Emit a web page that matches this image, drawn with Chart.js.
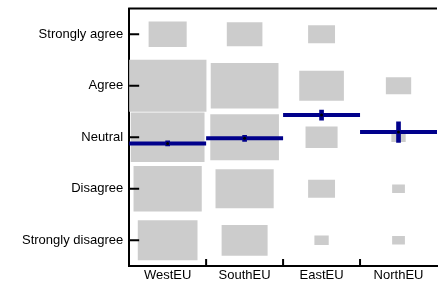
<!DOCTYPE html>
<html>
<head>
<meta charset="utf-8">
<script src="https://cdn.jsdelivr.net/npm/chart.js@4.4.0/dist/chart.umd.min.js"></script>
<style>
  html, body { margin: 0; padding: 0; background: #fff; overflow: hidden; }
</style>
</head>
<body>
<canvas id="chart" width="441" height="284"></canvas>
<script>
var regions = ["WestEU", "SouthEU", "EastEU", "NorthEU"];
var levels = ["Strongly disagree", "Disagree", "Neutral", "Agree", "Strongly agree"];

// answer frequency per level, Strongly disagree .. Strongly agree
var westEU = [59, 77, 90, 98, 24];
var southEU = [35, 56, 78, 76, 21];
var eastEU = [3.4, 12, 17, 33, 12];
var northEU = [2.7, 2.7, 3.4, 10.6, 0];

// mean answer (1..5) and its error
var means = [2.88, 2.98, 3.43, 3.10];
var errors = [0.05, 0.06, 0.10, 0.20];

var blue = "#00008b";
var gray = "#cccccc";
var font = { family: "'Liberation Sans', Arial, sans-serif", size: 13 };

var freqs = [westEU, southEU, eastEU, northEU];
var maxFreq = 0;
for (var r = 0; r < freqs.length; r++) {
	for (var l = 0; l < levels.length; l++) {
		if (freqs[r][l] > maxFreq) maxFreq = freqs[r][l];
	}
}

var datasets = [];

// one box per cell, side scaled with sqrt of frequency
for (var r = 0; r < regions.length; r++) {
	for (var l = 0; l < levels.length; l++) {
		var f = freqs[r][l];
		if (!f) continue;
		var s = Math.sqrt(f / maxFreq);
		datasets.push({
			type: "bar",
			data: [{ x: regions[r], y: [l + 1 - s / 2, l + 1 + s / 2] }],
			backgroundColor: gray,
			borderWidth: 0,
			grouped: false,
			categoryPercentage: 1,
			barPercentage: s,
			order: 5
		});
	}
}

var meanPts = [];
var errPts = [];
for (var k = 0; k < regions.length; k++) {
	meanPts.push({ x: regions[k], y: means[k] });
	errPts.push({ x: regions[k], y: [means[k] - errors[k], means[k] + errors[k]] });
}

// mean line across the whole category
datasets.push({
	type: "line",
	data: meanPts,
	showLine: false,
	pointStyle: "line",
	pointRadius: function(ctx) {
		var xs = ctx.chart.scales.x;
		return xs ? xs.width / regions.length / 2 : 39;
	},
	pointBorderWidth: 4,
	pointBorderColor: blue,
	order: 3
});

// error bars
datasets.push({
	type: "bar",
	data: errPts,
	backgroundColor: blue,
	borderWidth: 0,
	grouped: false,
	barThickness: 4,
	order: 2
});

// centre dot
datasets.push({
	type: "line",
	data: meanPts,
	showLine: false,
	pointStyle: "circle",
	pointRadius: 1.5,
	pointBorderWidth: 0,
	pointBackgroundColor: "#000",
	order: 1
});

// inward tick marks and top frame line
var frame = {
	id: "frame",
	afterDatasetsDraw: function(chart) {
		var ctx = chart.ctx;
		var area = chart.chartArea;
		var xs = chart.scales.x;
		var ys = chart.scales.y;
		ctx.save();
		ctx.strokeStyle = "#000";
		ctx.lineWidth = 2;
		ctx.beginPath();
		ctx.moveTo(area.left - 1, area.top);
		ctx.lineTo(area.right, area.top);
		for (var i = 0; i < levels.length; i++) {
			var y = ys.getPixelForValue(i + 1);
			ctx.moveTo(area.left, y);
			ctx.lineTo(area.left + 10, y);
		}
		for (var j = 0; j < regions.length - 1; j++) {
			var x = (xs.getPixelForValue(j) + xs.getPixelForValue(j + 1)) / 2;
			ctx.moveTo(x, area.bottom);
			ctx.lineTo(x, area.bottom - 7);
		}
		ctx.stroke();
		ctx.restore();
	}
};

new Chart(document.getElementById("chart").getContext("2d"), {
	type: "bar",
	data: { labels: regions, datasets: datasets },
	options: {
		responsive: false,
		animation: false,
		events: [],
		layout: { padding: { left: 16, top: 8.5, right: 0, bottom: 0 } },
		plugins: { legend: { display: false }, tooltip: { enabled: false } },
		scales: {
			x: {
				type: "category",
				offset: true,
				afterFit: function(scale) { scale.paddingLeft = 0; scale.paddingRight = 0; },
				grid: { display: true, drawOnChartArea: false, drawTicks: false, color: "rgba(0,0,0,0)" },
				border: { display: true, color: "#000", width: 2 },
				ticks: {
					font: { family: font.family, size: font.size, lineHeight: 0.92 },
					color: "#000",
					padding: 3
				}
			},
			y: {
				type: "linear",
				min: 0.5,
				max: 5.5,
				afterBuildTicks: function(axis) {
					axis.ticks = levels.map(function(n, i) { return { value: i + 1 }; });
				},
				afterFit: function(scale) { scale.paddingTop = 0; scale.paddingBottom = 0; },
				grid: { display: true, drawOnChartArea: false, drawTicks: false, color: "rgba(0,0,0,0)" },
				border: { display: true, color: "#000", width: 2 },
				ticks: {
					font: font,
					color: "#000",
					padding: 6,
					callback: function(v) { return levels[Math.round(v) - 1]; }
				}
			}
		}
	},
	plugins: [frame]
});
</script>
</body>
</html>
